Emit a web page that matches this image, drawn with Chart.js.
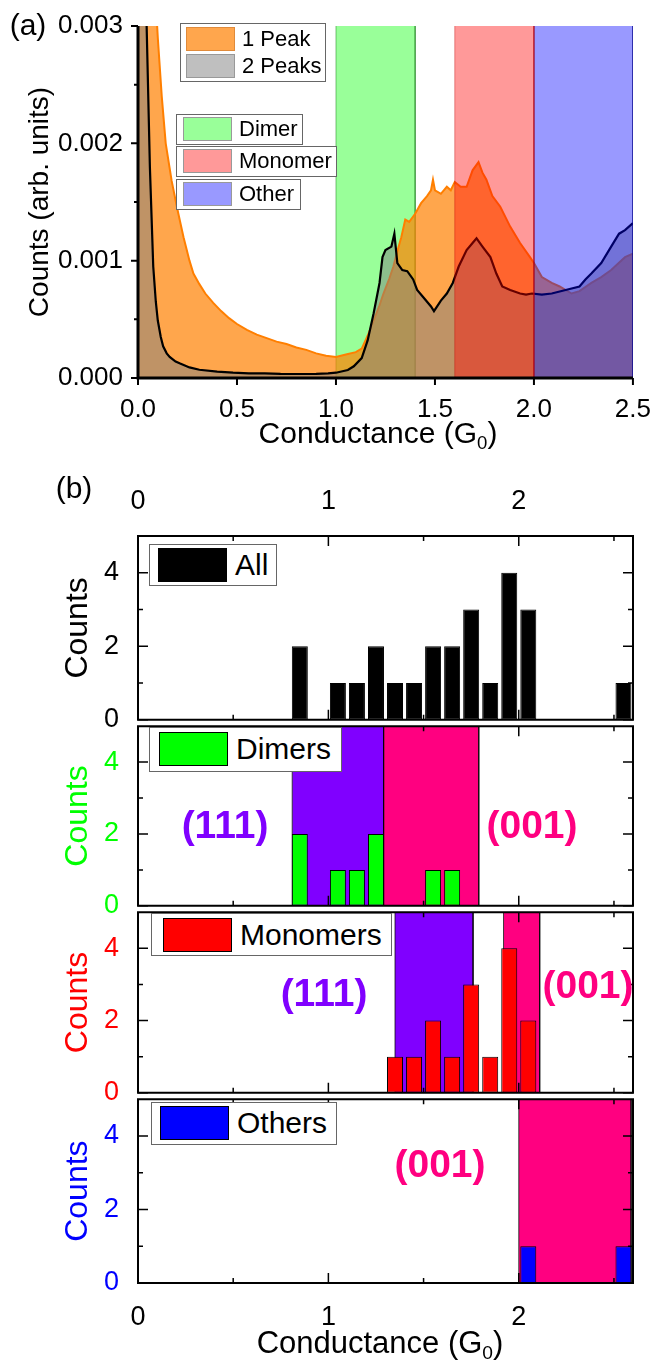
<!DOCTYPE html>
<html>
<head>
<meta charset="utf-8">
<title>Conductance histograms</title>
<script src="https://cdn.jsdelivr.net/npm/chart.js@4.4.1/dist/chart.umd.min.js"></script>
<style>
  html, body { margin: 0; padding: 0; background: #fff; }
  body { font-family: "Liberation Sans", Arial, Helvetica, sans-serif; color: #000; }
  #page { position: relative; width: 659px; height: 1364px; overflow: hidden; }
  #page canvas { position: absolute; left: 0; }
  .lbl { position: absolute; white-space: nowrap; line-height: 1; transform: translate(-50%, -50%); }
  .sub { font-size: 0.62em; position: relative; top: 0.32em; }
  .legend { position: absolute; box-sizing: border-box; background: #fff; border: 1px solid #666; }
  .row { position: absolute; display: flex; align-items: center; white-space: nowrap; }
  .sw { box-sizing: border-box; border: 1px solid #444; display: inline-block; }
  .facet { position: absolute; font-weight: bold; font-size: 39px; line-height: 1; white-space: nowrap; transform: translate(-50%, -50%); }
</style>
</head>
<body>
<div id="page">
  <canvas id="chartA" width="659" height="420" style="top:0"></canvas>
  <canvas id="chartAll" width="659" height="277" style="top:470px"></canvas>
  <canvas id="chartDim" width="659" height="234" style="top:699px"></canvas>
  <canvas id="chartMon" width="659" height="235" style="top:885px"></canvas>
  <canvas id="chartOth" width="659" height="256" style="top:1072px"></canvas>
  <div class="lbl" style="left:28px;top:25px;font-size:30px">(a)</div>
  <div class="lbl" style="left:74px;top:488px;font-size:30px">(b)</div>
  <div class="lbl" style="left:378px;top:433px;font-size:30px">Conductance (G<span class="sub">0</span>)</div>
  <div class="lbl" style="left:380px;top:1342px;font-size:31px">Conductance (G<span class="sub">0</span>)</div>
</div>
<script>
// ---- panel (a): conductance histograms ----
const onePeakG = [0.00, 0.05, 0.09, 0.10, 0.12, 0.14, 0.17, 0.20, 0.23, 0.26, 0.28, 0.31, 0.34, 0.38,
  0.42, 0.46, 0.50, 0.55, 0.60, 0.65, 0.70, 0.75, 0.80, 0.85, 0.90, 0.95, 1.00, 1.05, 1.10, 1.13,
  1.16, 1.19, 1.22, 1.24, 1.27, 1.29, 1.31, 1.33, 1.35, 1.37, 1.40, 1.43, 1.46, 1.48, 1.49, 1.50,
  1.53, 1.56, 1.58, 1.60, 1.63, 1.66, 1.69, 1.72, 1.74, 1.76, 1.79, 1.83, 1.88, 1.93, 1.98, 2.00,
  2.04, 2.09, 2.13, 2.19, 2.23, 2.29, 2.34, 2.39, 2.46, 2.50];
const onePeakCounts = [0.0080, 0.0055, 0.0032, 0.0029, 0.0024, 0.0020, 0.00168, 0.00143, 0.00120,
  0.00100, 0.00089, 0.00080, 0.00072, 0.00064, 0.00057, 0.00051, 0.00046, 0.00041, 0.00037, 0.00034,
  0.00031, 0.00029, 0.00026, 0.00024, 0.00021, 0.00019, 0.00018, 0.00020, 0.00022, 0.00025, 0.00036,
  0.00049, 0.00062, 0.00072, 0.00085, 0.00095, 0.00108, 0.00120, 0.00135, 0.00133, 0.00140, 0.00149,
  0.00155, 0.00160, 0.00169, 0.00160, 0.00157, 0.00163, 0.00160, 0.00167, 0.00163, 0.00163, 0.00177,
  0.00184, 0.00175, 0.00169, 0.00155, 0.00146, 0.00129, 0.00115, 0.00103, 0.00098, 0.00086, 0.00081,
  0.00078, 0.00072, 0.00074, 0.00081, 0.00086, 0.00092, 0.00103, 0.00106];
const twoPeaksG = [0.00, 0.03, 0.045, 0.06, 0.077, 0.09, 0.10, 0.115, 0.127, 0.145, 0.16, 0.19, 0.21,
  0.26, 0.31, 0.40, 0.48, 0.56, 0.64, 0.72, 0.81, 0.90, 0.96, 1.00, 1.06, 1.09, 1.13, 1.16, 1.19,
  1.22, 1.235, 1.25, 1.28, 1.295, 1.31, 1.335, 1.36, 1.39, 1.41, 1.44, 1.48, 1.495, 1.53, 1.56, 1.59,
  1.62, 1.66, 1.69, 1.71, 1.74, 1.78, 1.81, 1.84, 1.88, 1.93, 1.96, 1.99, 2.04, 2.09, 2.16, 2.23,
  2.26, 2.29, 2.34, 2.39, 2.43, 2.46, 2.50];
const twoPeaksCounts = [0.0080, 0.0040, 0.0029, 0.0018, 0.00095, 0.00065, 0.00049, 0.00035, 0.00027,
  0.00021, 0.00018, 0.00014, 0.000125, 0.00009, 0.00007, 0.000055, 0.000045, 0.00004, 0.00004,
  0.000035, 0.000034, 0.000035, 0.00004, 0.000045, 0.000068, 0.0001, 0.00017, 0.00032, 0.00055,
  0.00081, 0.00103, 0.00109, 0.00112, 0.00123, 0.00098, 0.00092, 0.00091, 0.00084, 0.00075, 0.00069,
  0.00061, 0.00057, 0.00066, 0.00072, 0.00081, 0.00095, 0.00109, 0.00115, 0.00119, 0.00112, 0.00103,
  0.00089, 0.00078, 0.00075, 0.00072, 0.00071, 0.00072, 0.00071, 0.00072, 0.00075, 0.00078, 0.00084,
  0.00089, 0.00098, 0.00112, 0.00123, 0.00126, 0.00132];
const curveLabels = ['1 Peak', '2 Peaks'];
const bandLabels = ['Dimer', 'Monomer', 'Other'];
const bandFrom = [1.0, 1.6, 2.0];
const bandTo = [1.4, 2.0, 2.5];
const aXMax = 2.5;
const aYMax = 0.003;
const aXTicks = [0, 0.5, 1, 1.5, 2, 2.5];
const aYTicks = [0, 0.001, 0.002, 0.003];
const aYMinorTicks = [0.0005, 0.0015, 0.0025];

// ---- panel (b): counts per conductance bin ----
const binCenters = [0.85, 0.95, 1.05, 1.15, 1.25, 1.35, 1.45, 1.55, 1.65, 1.75, 1.85, 1.95, 2.05,
  2.15, 2.25, 2.35, 2.45, 2.55];
const allCounts     = [2, 0, 1, 1, 2, 1, 1, 2, 2, 3, 1, 4, 3, 0, 0, 0, 0, 1];
const dimerCounts   = [2, 0, 1, 1, 2, 0, 0, 1, 1, 0, 0, 0, 0, 0, 0, 0, 0, 0];
const monomerCounts = [0, 0, 0, 0, 0, 1, 1, 2, 1, 3, 1, 4, 2, 0, 0, 0, 0, 0];
const otherCounts   = [0, 0, 0, 0, 0, 0, 0, 0, 0, 0, 0, 0, 1, 0, 0, 0, 0, 1];
const panelLabels = ['All', 'Dimers', 'Monomers', 'Others'];
const facetLabels = ['(111)', '(001)'];
const dimerFacetFrom = [0.81, 1.29];
const dimerFacetTo = [1.29, 1.79];
const monomerFacetFrom = [1.35, 1.92];
const monomerFacetTo = [1.76, 2.11];
const otherFacetFrom = [null, 2.0];
const otherFacetTo = [null, 2.59];
const bXMax = 2.6;
const bYMax = 5;
const bXTicks = [0, 1, 2];
const bXMinorTicks = [0.5, 1.5, 2.5];
const bYTicks = [0, 2, 4];
const bYMinorTicks = [1, 3];

const FAM = "'Liberation Sans', Arial, Helvetica, sans-serif";
const bandFill = ['rgba(0,255,0,0.4)', 'rgba(255,0,0,0.4)', 'rgba(0,0,255,0.4)'];
const bandEdge = ['rgba(0,110,0,0.45)', 'rgba(200,0,0,0.45)', 'rgba(0,0,140,0.6)'];
const bandOrder = [3, 0, 0];   // the green band sits under the curves, red and blue over them
const facetColors = ['#8000ff', '#ff0080'];
const page = document.getElementById('page');

const pts = (xs, ys) => xs.map((v, i) => ({x: v, y: ys[i]}));
const rect = (from, to, top) => [{x: from, y: 0}, {x: from, y: top}, {x: to, y: top}, {x: to, y: 0}];
const hideTop = {borderColor: c => (c.p0.parsed.y === c.p1.parsed.y ? 'rgba(0,0,0,0)' : undefined)};

// axis lines, frame and tick marks (major / minor) drawn through the scales
const decor = {
  id: 'decor',
  afterDatasetsDraw(chart, args, o) {
    const {ctx, chartArea: a} = chart;
    const x = chart.scales.x, y = chart.scales.y;
    const seg = (x0, y0, x1, y1) => { ctx.moveTo(x0, y0); ctx.lineTo(x1, y1); };
    ctx.save();
    ctx.strokeStyle = '#000';
    ctx.lineWidth = o.tickWidth;
    ctx.beginPath();
    [[o.xMajor, o.major], [o.xMinor, o.minor]].forEach(([vals, len]) => vals.forEach(v => {
      const px = x.getPixelForValue(v);
      if (o.inside) { seg(px, a.top, px, a.top + len); seg(px, a.bottom, px, a.bottom - len); }
      else seg(px, a.bottom, px, a.bottom + len);
    }));
    [[o.yMajor, o.major], [o.yMinor, o.minor]].forEach(([vals, len]) => vals.forEach(v => {
      const py = y.getPixelForValue(v);
      if (o.inside) { seg(a.left, py, a.left + len, py); seg(a.right, py, a.right - len, py); }
      else seg(a.left, py, a.left - len, py);
    }));
    ctx.stroke();
    ctx.lineWidth = o.frameWidth;
    ctx.beginPath();
    if (o.inside) ctx.rect(a.left, a.top, a.right - a.left, a.bottom - a.top);
    else { seg(a.left, a.top, a.left, a.bottom); ctx.lineTo(a.right, a.bottom); }
    ctx.stroke();
    ctx.restore();
  }
};

// ---- panel (a) ----
new Chart(document.getElementById('chartA'), {
  type: 'line',
  data: {
    datasets: [
      ...bandLabels.map((lab, i) => ({
        label: lab,
        data: rect(bandFrom[i], bandTo[i], aYMax),
        backgroundColor: bandFill[i],
        borderColor: bandEdge[i],
        borderWidth: 1,
        segment: hideTop,
        fill: 'origin',
        pointRadius: 0,
        order: bandOrder[i]
      })),
      {
        label: curveLabels[1],
        data: pts(twoPeaksG, twoPeaksCounts),
        borderColor: '#000',
        borderWidth: 2.2,
        backgroundColor: 'rgba(128,128,128,0.5)',
        fill: 'origin',
        pointRadius: 0,
        order: 1
      },
      {
        label: curveLabels[0],
        data: pts(onePeakG, onePeakCounts),
        borderColor: '#ff7f00',
        borderWidth: 2,
        backgroundColor: 'rgba(255,128,0,0.7)',
        fill: 'origin',
        pointRadius: 0,
        order: 2
      }
    ]
  },
  options: {
    responsive: false,
    animation: false,
    events: [],
    layout: {padding: {left: 0, right: 22, top: 26, bottom: 0}},
    scales: {
      x: {
        type: 'linear', min: 0, max: aXMax,
        grid: {display: false}, border: {display: false},
        ticks: {color: '#000', padding: 8, maxRotation: 0, font: {family: FAM, size: 26}, callback: v => v.toFixed(1)},
        afterBuildTicks: s => { s.ticks = aXTicks.map(v => ({value: v})); },
        afterFit: s => { s.height = 42; }
      },
      y: {
        type: 'linear', min: 0, max: aYMax,
        grid: {display: false}, border: {display: false},
        ticks: {color: '#000', padding: 7, font: {family: FAM, size: 26}, callback: v => v.toFixed(3)},
        afterBuildTicks: s => { s.ticks = aYTicks.map(v => ({value: v})); },
        title: {display: true, text: 'Counts (arb. units)', color: '#000', font: {family: FAM, size: 28}, padding: {top: 23, bottom: 0}},
        afterFit: s => { s.width = 138; }
      }
    },
    plugins: {
      legend: {display: false},
      tooltip: {enabled: false},
      decor: {inside: false, xMajor: aXTicks, xMinor: [], yMajor: aYTicks, yMinor: aYMinorTicks,
        major: 7, minor: 4, tickWidth: 2, frameWidth: 3}
    }
  },
  plugins: [decor]
});

// ---- panel (b) ----
function facetRegions(from, to) {
  return from.map((f, i) => (f === null ? null : {from: f, to: to[i], color: facetColors[i]})).filter(Boolean);
}

function countsChart(id, counts, color, regions, axis) {
  return new Chart(document.getElementById(id), {
    type: 'bar',
    data: {
      datasets: [
        {
          type: 'bar',
          data: pts(binCenters, counts),
          backgroundColor: color,
          borderColor: '#000',
          borderWidth: 1,
          borderSkipped: false,
          barPercentage: 0.84,
          categoryPercentage: 1,
          grouped: false,
          order: 0
        },
        ...regions.map(r => ({
          type: 'line',
          data: rect(r.from, r.to, bYMax),
          backgroundColor: r.color,
          borderColor: 'rgba(0,0,0,0.75)',
          borderWidth: 1,
          segment: hideTop,
          fill: 'origin',
          pointRadius: 0,
          order: 1
        }))
      ]
    },
    options: {
      responsive: false,
      animation: false,
      events: [],
      layout: {padding: {left: 0, right: 26, top: axis === 'top' ? 0 : 24, bottom: axis === 'bottom' ? 0 : 24}},
      scales: {
        x: {
          type: 'linear', min: 0, max: bXMax, offset: false,
          display: !!axis, position: axis || 'bottom',
          grid: {display: false, offset: false}, border: {display: false},
          ticks: {color: '#000', padding: 10, maxRotation: 0, font: {family: FAM, size: 27}, callback: v => String(v)},
          afterBuildTicks: s => { s.ticks = bXTicks.map(v => ({value: v})); },
          afterFit: s => { s.height = axis === 'top' ? 66 : (axis === 'bottom' ? 45 : 0); }
        },
        y: {
          type: 'linear', min: 0, max: bYMax,
          grid: {display: false}, border: {display: false},
          ticks: {color: color, padding: 11, font: {family: FAM, size: 27}, callback: v => String(v)},
          afterBuildTicks: s => { s.ticks = bYTicks.map(v => ({value: v})); },
          title: {display: true, text: 'Counts', color: color, font: {family: FAM, size: 32}, padding: {top: 59, bottom: 0}},
          afterFit: s => { s.width = 138; }
        }
      },
      plugins: {
        legend: {display: false},
        tooltip: {enabled: false},
        decor: {inside: true, xMajor: bXTicks, xMinor: bXMinorTicks, yMajor: bYTicks, yMinor: bYMinorTicks,
          major: 10, minor: 5, tickWidth: 1.5, frameWidth: 2}
      }
    },
    plugins: [decor]
  });
}

countsChart('chartAll', allCounts, '#000000', [], 'top');
countsChart('chartDim', dimerCounts, '#00ff00', facetRegions(dimerFacetFrom, dimerFacetTo), null);
countsChart('chartMon', monomerCounts, '#ff0000', facetRegions(monomerFacetFrom, monomerFacetTo), null);
countsChart('chartOth', otherCounts, '#0000ff', facetRegions(otherFacetFrom, otherFacetTo), 'bottom');

// ---- legends (boxed, as in the figure) ----
function addLegend(box, rows) {
  const div = document.createElement('div');
  div.className = 'legend';
  Object.assign(div.style, {left: box.left + 'px', top: box.top + 'px', width: box.width + 'px', height: box.height + 'px'});
  rows.forEach(r => {
    const row = document.createElement('div');
    row.className = 'row';
    Object.assign(row.style, {left: box.swLeft + 'px', top: r.y + 'px', height: box.swH + 'px', fontSize: box.font + 'px'});
    const sw = document.createElement('span');
    sw.className = 'sw';
    Object.assign(sw.style, {width: box.swW + 'px', height: box.swH + 'px', background: r.fill, borderColor: r.stroke});
    const tx = document.createElement('span');
    tx.textContent = r.label;
    tx.style.marginLeft = box.gap + 'px';
    row.append(sw, tx);
    div.append(row);
  });
  page.append(div);
}

const aLegend = {swLeft: 5, swW: 49, swH: 24, font: 22, gap: 7};
addLegend({...aLegend, left: 180, top: 23, width: 146, height: 59}, [
  {label: curveLabels[0], fill: 'rgb(255,166,77)', stroke: '#e08a3a', y: 3},
  {label: curveLabels[1], fill: 'rgb(191,191,191)', stroke: '#999', y: 30}
]);
const bandSwatch = ['rgb(153,255,153)', 'rgb(255,153,153)', 'rgb(153,153,255)'];
const bandBoxTop = [114, 146, 179];
const bandBoxWidth = [127, 161, 125];
bandLabels.forEach((lab, i) => addLegend({...aLegend, swLeft: 6, left: 176, top: bandBoxTop[i], width: bandBoxWidth[i], height: 31},
  [{label: lab, fill: bandSwatch[i], stroke: '#999', y: 2}]));

const bLegend = {swW: 69, swH: 34, font: 30, gap: 8};
const panelSwatch = ['#000000', '#00ff00', '#ff0000', '#0000ff'];
const panelBox = [
  {left: 149, top: 544, width: 128, height: 42, swLeft: 8, y: 3},
  {left: 149, top: 727, width: 193, height: 45, swLeft: 9, y: 4},
  {left: 151, top: 913, width: 241, height: 43, swLeft: 11, y: 4},
  {left: 151, top: 1102, width: 186, height: 43, swLeft: 8, y: 3}
];
panelLabels.forEach((lab, i) => addLegend({...bLegend, ...panelBox[i]},
  [{label: lab, fill: panelSwatch[i], stroke: '#000', y: panelBox[i].y}]));

// ---- facet annotations ----
const facetSpots = [
  {f: 0, left: 225, top: 824}, {f: 1, left: 532, top: 824},
  {f: 0, left: 324, top: 992}, {f: 1, left: 588, top: 984},
  {f: 1, left: 440, top: 1163}
];
facetSpots.forEach(s => {
  const d = document.createElement('div');
  d.className = 'facet';
  d.textContent = facetLabels[s.f];
  Object.assign(d.style, {left: s.left + 'px', top: s.top + 'px', color: facetColors[s.f]});
  page.append(d);
});
</script>
</body>
</html>
